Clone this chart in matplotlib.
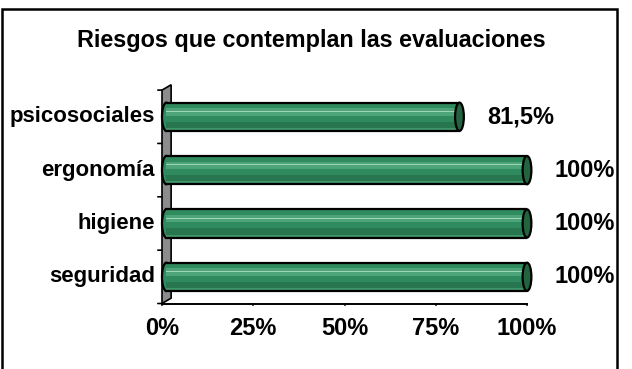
import matplotlib.pyplot as plt
from matplotlib.patches import Ellipse, Polygon, Rectangle

plt.rcParams['font.family'] = ['Liberation Sans', 'DejaVu Sans']

title = 'Riesgos que contemplan las evaluaciones'
categories = ['seguridad', 'higiene', 'ergonomía', 'psicosociales']
values = [100, 100, 100, 81.5]
value_labels = ['100%', '100%', '100%', '81,5%']
xticks = [0, 25, 50, 75, 100]
xtick_labels = ['0%', '25%', '50%', '75%', '100%']

W, H = 632, 369
fig = plt.figure(figsize=(W / 100, H / 100), dpi=100)

# outer chart frame
fig.patches.append(Rectangle((2 / W, -0.05), 615 / W, (H - 9) / H + 0.05,
                             transform=fig.transFigure, fill=False,
                             edgecolor='black', linewidth=1.8))

fig.text(311 / W, 1 - 40 / H, title, ha='center', va='center',
         fontsize=16.8, fontweight='bold')

ax = fig.add_axes([162 / W, (H - 303.5) / H, 365 / W, 213.4 / H])
ax.set_xlim(0, 100)
ax.set_ylim(-0.5, len(categories) - 0.5)
ax.axis('off')

# back wall (3D depth)
dx, dy = 2.5, 0.1
ytop = len(categories) - 0.5
wall = Polygon([(0, -0.5), (dx, -0.5 + dy), (dx, ytop + dy), (0, ytop)],
               closed=True, facecolor='#8c8c8c', edgecolor='black',
               linewidth=1.2, clip_on=False, zorder=1)
ax.add_patch(wall)
ax.plot([0, 100], [-0.5, -0.5], color='black', lw=1.4, clip_on=False, zorder=2)

# ticks
for t, lab in zip(xticks, xtick_labels):
    ax.plot([t, t], [-0.5, -0.52], color='black', lw=1.2, clip_on=False)
    ax.annotate(lab, (t, -0.5), xytext=(0, -18), textcoords='offset points',
                ha='center', va='center', fontsize=17, fontweight='bold',
                annotation_clip=False)
for b in [i - 0.5 for i in range(len(categories) + 1)]:
    ax.annotate('', (0, b), xytext=(-3, 0), textcoords='offset points',
                arrowprops=dict(arrowstyle='-', lw=1.2, color='black',
                                shrinkA=0, shrinkB=0), annotation_clip=False)

h = 0.53
cap_w = 2.4
ys = list(range(len(categories)))
x0 = cap_w / 2
lefts = [x0] * len(values)
widths = [v - x0 for v in values]
# cylinder body with shading bands
ax.barh(ys, widths, left=lefts, height=h, color='#2f8a5d', edgecolor='none', zorder=3)
ax.barh([y + 0.09 for y in ys], widths, left=lefts, height=0.14, color='#4ea479',
        edgecolor='none', zorder=3)
ax.barh([y + 0.1 for y in ys], widths, left=lefts, height=0.02, color='#9ed6b5',
        edgecolor='none', zorder=3)
ax.barh([y - 0.15 for y in ys], widths, left=lefts, height=0.12, color='#287650',
        edgecolor='none', zorder=3)
ax.barh([y - 0.23 for y in ys], widths, left=lefts, height=0.04, color='#3f9468',
        edgecolor='none', zorder=3)
for y, v, lab, cat in zip(ys, values, value_labels, categories):
    ax.add_patch(Ellipse((x0, y), cap_w, h, facecolor='#2f8a5d',
                         edgecolor='black', lw=1.6, zorder=2.9, clip_on=False))
    ax.plot([x0, v], [y + h / 2, y + h / 2], color='black', lw=1.6, zorder=4)
    ax.plot([x0, v], [y - h / 2, y - h / 2], color='black', lw=1.6, zorder=4)
    ax.add_patch(Ellipse((v, y), cap_w, h, facecolor='#23643f',
                         edgecolor='black', lw=1.6, zorder=5, clip_on=False))
    ax.annotate(lab, (v, y), xytext=(20, 0), textcoords='offset points',
                ha='left', va='center', fontsize=17, fontweight='bold',
                annotation_clip=False)
    ax.annotate(cat, (0, y), xytext=(-5, 0), textcoords='offset points',
                ha='right', va='center', fontsize=16, fontweight='bold',
                annotation_clip=False)

fig.savefig('out.png', dpi=100, facecolor='white')
